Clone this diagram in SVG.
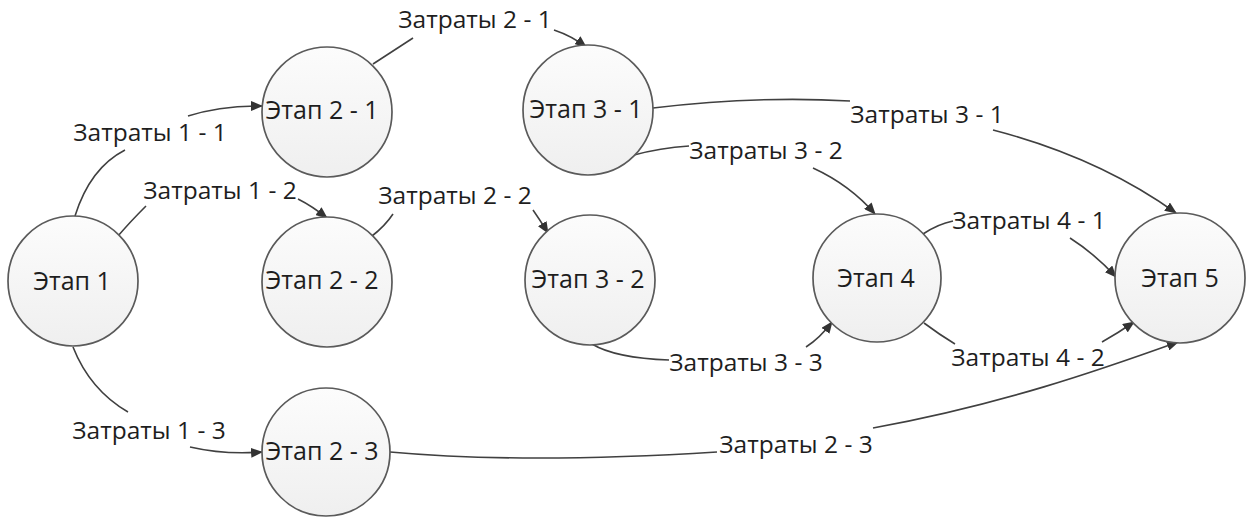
<svg xmlns="http://www.w3.org/2000/svg" width="1260" height="519" viewBox="0 0 1260 519">
<defs>
<linearGradient id="g" x1="0" y1="0" x2="0" y2="1">
<stop offset="0" stop-color="#fcfcfc"/>
<stop offset="1" stop-color="#efefef"/>
</linearGradient>
<marker id="ah" viewBox="0 0 12 10" refX="11" refY="5" markerWidth="12" markerHeight="10" markerUnits="userSpaceOnUse" orient="auto">
<path d="M0,0 L12,5 L0,10 Z" fill="#333"/>
</marker>
<style>
.n{fill:url(#g);stroke:#5a5a5a;stroke-width:1.7}
.t{font-family:"Open Sans","Liberation Sans",sans-serif;font-size:24.5px;fill:#1e1e1e;text-anchor:middle}
.nt{font-size:25px}
.c path{fill:none;stroke:#404040;stroke-width:1.6}
.a{marker-end:url(#ah)}
</style>
</defs>
<rect width="1260" height="519" fill="#fff"/>
<g class="c" id="connectors">
<path d="M75,216 Q90,168 125,150"/>
<path class="a" d="M188,116 Q220,106 262,106"/>
<path d="M118,236 Q130,222 146,206"/>
<path class="a" d="M298,199 Q312,206 327,218"/>
<path d="M73,347 Q90,390 128,412"/>
<path class="a" d="M190,447 Q225,455 262,452"/>
<path d="M373,64 L413,38"/>
<path class="a" d="M554,30 Q572,36 586,47"/>
<path d="M372,236 Q385,226 393,214"/>
<path class="a" d="M533,210 Q540,220 548,233"/>
<path d="M390,452 C500,462 620,458 717,452"/>
<path class="a" d="M873,428 C1000,405 1100,370 1178,342"/>
<path d="M653,108 C720,100 780,97 850,101"/>
<path class="a" d="M993,130 C1070,150 1130,180 1176,213"/>
<path d="M634,155 Q660,148 689,146"/>
<path class="a" d="M813,168 Q850,185 875,214"/>
<path d="M592,344 Q615,358 669,360"/>
<path class="a" d="M806,347 Q820,338 832,322"/>
<path d="M923,234 Q938,224 953,221"/>
<path class="a" d="M1070,238 Q1095,254 1116,277"/>
<path d="M924,323 Q940,335 955,344"/>
<path class="a" d="M1102,342 Q1118,333 1134,322"/>
</g>
<g id="n1"><circle class="n" cx="73" cy="281" r="65"/><text class="t nt" x="72" y="290">Этап 1</text></g>
<g id="n21"><circle class="n" cx="327" cy="112" r="65"/><text class="t nt" x="322" y="119">Этап 2 - 1</text></g>
<g id="n22"><circle class="n" cx="327" cy="282" r="65"/><text class="t nt" x="322" y="289">Этап 2 - 2</text></g>
<g id="n23"><circle class="n" cx="326" cy="452" r="64"/><text class="t nt" x="322" y="460">Этап 2 - 3</text></g>
<g id="n31"><circle class="n" cx="588" cy="110" r="65"/><text class="t nt" x="586" y="118">Этап 3 - 1</text></g>
<g id="n32"><circle class="n" cx="590" cy="280" r="65"/><text class="t nt" x="588" y="288">Этап 3 - 2</text></g>
<g id="n4"><circle class="n" cx="877" cy="278" r="64"/><text class="t nt" x="876" y="287">Этап 4</text></g>
<g id="n5"><circle class="n" cx="1180" cy="278" r="65"/><text class="t nt" x="1180" y="287">Этап 5</text></g>
<g id="labels">
<text class="t" x="150" y="141">Затраты 1 - 1</text>
<text class="t" x="220" y="199">Затраты 1 - 2</text>
<text class="t" x="149" y="439">Затраты 1 - 3</text>
<text class="t" x="475" y="28">Затраты 2 - 1</text>
<text class="t" x="455" y="204">Затраты 2 - 2</text>
<text class="t" x="796" y="453">Затраты 2 - 3</text>
<text class="t" x="927" y="123">Затраты 3 - 1</text>
<text class="t" x="766" y="159">Затраты 3 - 2</text>
<text class="t" x="746" y="371">Затраты 3 - 3</text>
<text class="t" x="1029" y="229">Затраты 4 - 1</text>
<text class="t" x="1028" y="366">Затраты 4 - 2</text>
</g>
</svg>
